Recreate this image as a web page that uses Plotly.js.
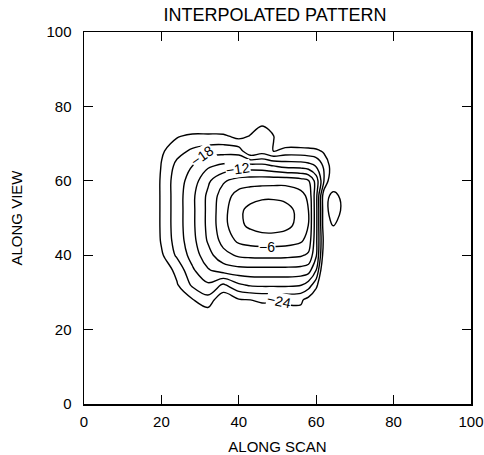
<!DOCTYPE html>
<html>
<head>
<meta charset="utf-8">
<script src="https://cdn.plot.ly/plotly-3.0.1.min.js"></script>
<style>html,body{margin:0;padding:0;background:#fff;}#chart{width:484px;height:455px;}</style>
</head>
<body>
<div id="chart"></div>
<script>
// Grid node positions (ALONG SCAN, ALONG VIEW)
var xNodes = [0, 12, 17, 20, 24, 28, 32, 36, 40, 43, 46, 49, 52, 56, 58, 60, 62, 64.5, 67, 70, 80, 100];
var yNodes = [0, 12, 20, 24, 28, 32, 36, 40, 44, 48, 52, 56, 60, 64, 68, 72, 76, 88, 100];

// Relative level (dB) at each node, one row per yNode
var zGrid = [
  [-30,-30,-30,-30,-30,-30,-30,-30,-30,-30,-30,-30,-30,-30,-30,-30,-30,-30,-30,-30,-30,-30],
  [-30,-30,-30,-30,-30,-30,-30,-30,-30,-30,-30,-30,-30,-30,-30,-30,-30,-30,-30,-30,-30,-30],
  [-30,-30,-30,-30,-30,-30,-30,-30,-30,-30,-30,-30,-30,-30,-30,-30,-30,-30,-30,-30,-30,-30],
  [-30,-30,-30,-30,-28,-27,-25.7,-25.5,-25.8,-25.5,-25.5,-25.5,-25.5,-25,-28,-30,-30,-30,-30,-30,-30,-30],
  [-30,-30,-30,-27.5,-26.5,-24.2,-22.2,-26.5,-24.3,-24,-23.6,-23.6,-23.3,-23.5,-25,-27.5,-30,-30,-30,-30,-30,-30],
  [-30,-30,-29,-28,-24.3,-20.5,-18.5,-21.5,-18.5,-17.6,-17.4,-17.4,-17.4,-17.8,-19.5,-23,-29,-30,-30,-30,-30,-30],
  [-30,-30,-28.5,-26,-23.2,-18.5,-15.3,-13.6,-13,-12.9,-12.9,-12.9,-12.9,-13.1,-13.6,-18,-28,-30,-30,-30,-30,-30],
  [-30,-30,-28,-24.5,-20.5,-16.8,-13.1,-10,-8.5,-8.2,-8.1,-8.1,-8.2,-8.6,-9.5,-14.6,-26,-30,-30,-30,-30,-30],
  [-30,-30,-28,-23.6,-19.7,-16,-11.7,-7.9,-5.35,-4.75,-4.5,-4.5,-4.65,-5.55,-7,-14.2,-25,-28,-30,-30,-30,-30],
  [-30,-30,-28,-23.4,-19.5,-15.7,-11.3,-7,-3.65,-2.4,-1.6,-1.5,-2.1,-4,-6.05,-14,-26,-23.8,-26.5,-30,-30,-30],
  [-30,-30,-28,-23.4,-19.5,-15.7,-11.3,-7,-3.55,-2.2,-1.2,-1.04,-1.87,-3.95,-6,-14,-26,-21.5,-25,-30,-30,-30],
  [-30,-30,-28,-23.4,-19.5,-15.7,-11.4,-7.5,-4.75,-4,-3.7,-3.7,-3.9,-5,-6.65,-14,-26,-22.5,-25.5,-30,-30,-30],
  [-30,-30,-28,-23.4,-19.5,-16.6,-12.6,-9.4,-7.65,-7.35,-7.2,-7.1,-7,-7.8,-8.75,-13.2,-21,-28,-30,-30,-30,-30],
  [-30,-30,-28.4,-23.8,-20.2,-18,-15.5,-14.3,-13.9,-13.8,-14,-15,-16,-16.2,-16.8,-18.2,-21.5,-26,-30,-30,-30,-30],
  [-30,-30,-29.5,-24.5,-22,-20.5,-19.5,-19.2,-19.5,-23.9,-22.5,-24.2,-22.8,-22.8,-23,-23.2,-24.5,-30,-30,-30,-30,-30],
  [-30,-30,-30,-27.7,-24.3,-23.3,-23.3,-23.4,-25,-23.8,-21.8,-23.9,-28,-28,-28,-29,-30,-30,-30,-30,-30,-30],
  [-30,-30,-30,-30,-28,-28,-28,-28,-28.5,-26,-25,-27,-30,-30,-30,-30,-30,-30,-30,-30,-30,-30],
  [-30,-30,-30,-30,-30,-30,-30,-30,-30,-30,-30,-30,-30,-30,-30,-30,-30,-30,-30,-30,-30,-30],
  [-30,-30,-30,-30,-30,-30,-30,-30,-30,-30,-30,-30,-30,-30,-30,-30,-30,-30,-30,-30,-30,-30]
];

// Contour levels
var levelStart = -24, levelEnd = -3, levelStep = 3;

// Contour labels drawn on the picture
var labelTexts = ['\u221218', '\u221212', '\u22126', '\u221224'];
var labelX = [30.4, 39.7, 47.4, 50.3];
var labelY = [66.8, 63.1, 42.2, 27.6];
var labelAngle = [-35, -8, 0, 12];

var tickVals = [0, 20, 40, 60, 80, 100];
var tickText = ['0', '20', '40', '60', '80', '100'];

var FONT = 'Liberation Sans, Arial, sans-serif';

var trace = {
  type: 'contour',
  x: xNodes,
  y: yNodes,
  z: zGrid,
  autocontour: false,
  contours: {start: levelStart, end: levelEnd, size: levelStep, coloring: 'lines', showlabels: false},
  colorscale: [[0, '#000'], [1, '#000']],
  showscale: false,
  line: {color: '#000', width: 1.4, smoothing: 1},
  hoverinfo: 'skip'
};

var annotations = labelTexts.map(function (t, i) {
  return {
    x: labelX[i], y: labelY[i], xref: 'x', yref: 'y',
    text: t, showarrow: false, textangle: labelAngle[i],
    font: {family: FONT, size: 14, color: '#000'},
    bgcolor: '#fff', borderpad: 0
  };
});

var axisCommon = {
  range: [0, 100],
  tickvals: tickVals,
  ticktext: tickText,
  ticks: 'inside',
  ticklen: 9,
  tickwidth: 1.2,
  tickcolor: '#000',
  showline: true,
  linecolor: '#000',
  linewidth: 1.5,
  mirror: 'ticks',
  showgrid: false,
  zeroline: false,
  tickfont: {family: FONT, size: 15, color: '#000'}
};

var layout = {
  width: 484,
  height: 455,
  margin: {l: 84, r: 13, t: 32, b: 51},
  paper_bgcolor: '#fff',
  plot_bgcolor: '#fff',
  showlegend: false,
  title: {
    text: 'INTERPOLATED PATTERN',
    font: {family: FONT, size: 18, color: '#000'},
    x: 0.568, xanchor: 'center',
    y: 0.967, yanchor: 'middle', yref: 'container'
  },
  xaxis: Object.assign({}, axisCommon, {
    ticklabelstandoff: 3,
    title: {text: 'ALONG SCAN', font: {family: FONT, size: 15, color: '#000'}, standoff: 13}
  }),
  yaxis: Object.assign({}, axisCommon, {
    ticklabelstandoff: 8,
    title: {text: 'ALONG VIEW', font: {family: FONT, size: 15, color: '#000'}, standoff: 20}
  }),
  annotations: annotations
};

Plotly.newPlot('chart', [trace], layout, {displayModeBar: false, staticPlot: true});
</script>
</body>
</html>
